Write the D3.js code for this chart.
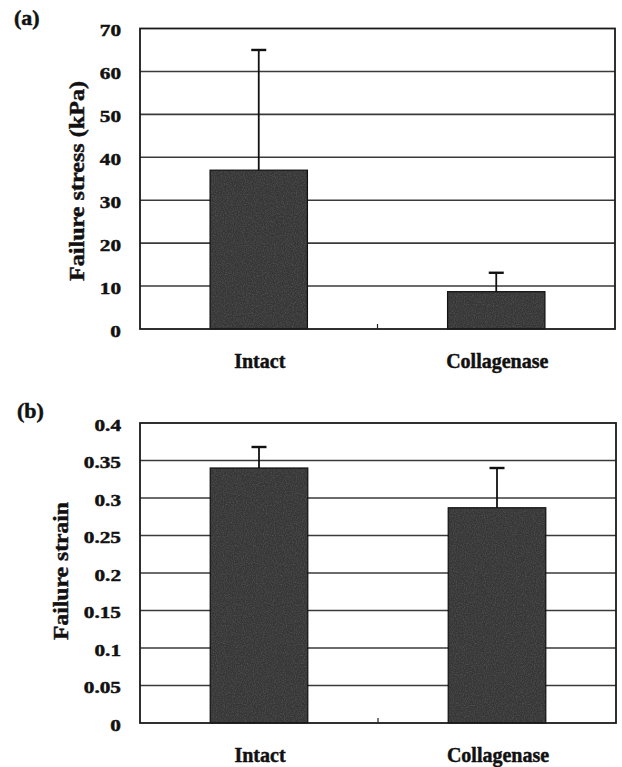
<!DOCTYPE html>
<html><head><meta charset="utf-8">
<script src="https://cdn.jsdelivr.net/npm/d3@7"></script>
<style>
html,body{margin:0;padding:0;background:#fff;}
svg{display:block;}
</style></head>
<body>
<script>
const categories = ["Intact", "Collagenase"];
const stressMean = [37, 8.7];
const stressErr = [28, 4.4];
const stressTicks = [0, 10, 20, 30, 40, 50, 60, 70];
const stressTickLabels = ["0", "10", "20", "30", "40", "50", "60", "70"];
const strainMean = [0.34, 0.287];
const strainErr = [0.028, 0.053];
const strainTicks = [0, 0.05, 0.1, 0.15, 0.2, 0.25, 0.3, 0.35, 0.4];
const strainTickLabels = ["0", "0.05", "0.1", "0.15", "0.2", "0.25", "0.3", "0.35", "0.4"];

const FONT = "Liberation Serif, Times New Roman, serif";
const W = 622, H = 767;
const svg = d3.select("body").append("svg").attr("width", W).attr("height", H);

const defs = svg.append("defs");
const f = defs.append("filter").attr("id", "grain").attr("x", 0).attr("y", 0).attr("width", 1).attr("height", 1);
f.append("feTurbulence").attr("type", "fractalNoise").attr("baseFrequency", 0.9).attr("numOctaves", 2).attr("seed", 3).attr("result", "n");
f.append("feColorMatrix").attr("in", "n").attr("type", "matrix")
  .attr("values", "0 0 0 0 0.45  0 0 0 0 0.45  0 0 0 0 0.45  1.2 0 0 0 -0.45").attr("result", "g");
f.append("feComposite").attr("in", "g").attr("in2", "SourceGraphic").attr("operator", "in");

function txt(sel) {
  return sel.attr("font-family", FONT).attr("font-weight", "bold").attr("fill", "#111")
    .attr("stroke", "#111").attr("stroke-width", 0.45);
}

function panel(opt) {
  const g = svg.append("g");
  const x = d3.scaleBand().domain(categories).range([opt.left, opt.right]).padding(0);
  const y = d3.scaleLinear().domain([0, opt.max]).range([opt.bottom, opt.top]);
  const barW = x.bandwidth() * 0.41;

  // gridlines
  g.selectAll("line.grid").data(opt.ticks.filter(t => t > 0 && t < opt.max)).enter().append("line")
    .attr("x1", opt.left).attr("x2", opt.right)
    .attr("y1", d => y(d)).attr("y2", d => y(d))
    .attr("stroke", "#3a3a3a").attr("stroke-width", 1.6);

  // y axis labels (horizontally widened like the reference)
  const sx = 1.25;
  const ax = d3.axisLeft(y).tickValues(opt.ticks).tickFormat((d, i) => opt.labels[i]).tickSize(0).tickPadding(0);
  const axg = g.append("g").attr("transform", `translate(${opt.left - 19},2)`).call(ax);
  axg.attr("font-family", FONT);
  axg.select(".domain").remove();
  axg.selectAll(".tick text").attr("x", 0).attr("transform", `scale(${sx},1)`);
  txt(axg.selectAll(".tick text")).attr("font-size", 17);

  // bars
  const bars = categories.map((c, i) => ({ c, m: opt.mean[i], e: opt.err[i] }));
  g.selectAll("rect.bar").data(bars).enter().append("rect")
    .attr("x", d => x(d.c) + x.bandwidth() / 2 - barW / 2)
    .attr("width", barW)
    .attr("y", d => y(d.m)).attr("height", d => y(0) - y(d.m))
    .attr("fill", "#363636").attr("stroke", "#111").attr("stroke-width", 1.2);
  g.selectAll("rect.grain").data(bars).enter().append("rect")
    .attr("x", d => x(d.c) + x.bandwidth() / 2 - barW / 2 + 1)
    .attr("width", barW - 2)
    .attr("y", d => y(d.m) + 1).attr("height", d => y(0) - y(d.m) - 2)
    .attr("fill", "#000").attr("filter", "url(#grain)").attr("opacity", 0.35);

  // error bars
  g.selectAll("line.err").data(bars).enter().append("line")
    .attr("x1", d => x(d.c) + x.bandwidth() / 2).attr("x2", d => x(d.c) + x.bandwidth() / 2)
    .attr("y1", d => y(d.m)).attr("y2", d => y(d.m + d.e))
    .attr("stroke", "#111").attr("stroke-width", 1.8);
  g.selectAll("line.cap").data(bars).enter().append("line")
    .attr("x1", d => x(d.c) + x.bandwidth() / 2 - 7.5).attr("x2", d => x(d.c) + x.bandwidth() / 2 + 7.5)
    .attr("y1", d => y(d.m + d.e)).attr("y2", d => y(d.m + d.e))
    .attr("stroke", "#111").attr("stroke-width", 2.4);

  // frame
  g.append("rect").attr("x", opt.left).attr("y", opt.top)
    .attr("width", opt.right - opt.left).attr("height", opt.bottom - opt.top)
    .attr("fill", "none").attr("stroke", "#1a1a1a").attr("stroke-width", 1.8);

  // category boundary tick
  const mid = x(categories[1]);
  g.append("line").attr("x1", mid).attr("x2", mid).attr("y1", opt.bottom).attr("y2", opt.bottom - 5)
    .attr("stroke", "#222").attr("stroke-width", 1.2);

  // category labels
  txt(g.selectAll("text.cat").data(categories).enter().append("text")
    .attr("x", d => x(d) + x.bandwidth() / 2 + 1).attr("y", opt.catY)
    .attr("text-anchor", "middle").attr("font-size", 20).text(d => d));

  // y title
  txt(g.append("text").attr("transform", `translate(${opt.ylabX},${opt.ylabY}) rotate(-90)`)
    .attr("text-anchor", "middle").attr("font-size", 21)
    .attr("textLength", opt.ylabLen).attr("lengthAdjust", "spacingAndGlyphs")
    .text(opt.ylab));

  // panel label
  txt(g.append("text").attr("transform", `translate(${opt.tagX},${opt.tagY}) scale(1.1,1)`)
    .attr("font-size", 20).text(opt.tag));
}

panel({ left: 140, right: 615, top: 28.5, bottom: 329, max: 70, ticks: stressTicks, labels: stressTickLabels,
  mean: stressMean, err: stressErr, catY: 368, ylab: "Failure stress (kPa)", ylabX: 84, ylabY: 181, ylabLen: 200,
  tag: "(a)", tagX: 14, tagY: 25 });
panel({ left: 140, right: 616, top: 423, bottom: 723, max: 0.4, ticks: strainTicks, labels: strainTickLabels,
  mean: strainMean, err: strainErr, catY: 762, ylab: "Failure strain", ylabX: 68, ylabY: 571, ylabLen: 138,
  tag: "(b)", tagX: 17, tagY: 418 });
</script>
</body></html>
